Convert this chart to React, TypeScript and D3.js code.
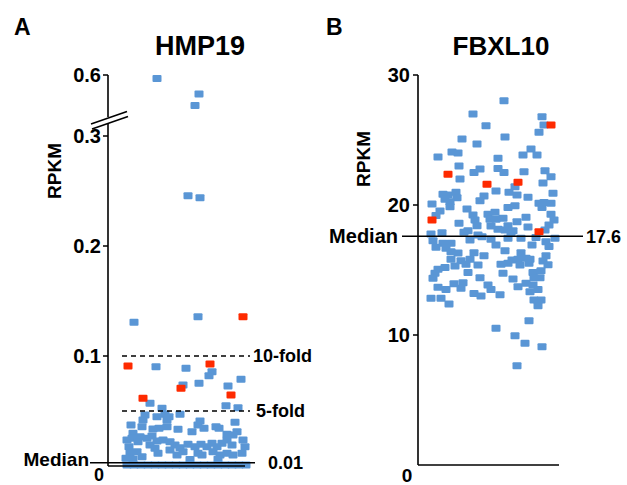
import React from 'react';
import * as d3 from 'd3';

// panel A (HMP19): [jitter, RPKM]
const hmpHigh = [[49, 0.591], [91, 0.55], [87, 0.52]];
const hmpBlue = [
  [80, 0.2457], [92, 0.2439], [26, 0.1306], [90, 0.1357], [48, 0.0903], [78, 0.0888],
  [104, 0.0857], [101, 0.0821], [91, 0.0752], [75, 0.0736], [120, 0.0727], [133, 0.0788],
  [42, 0.057], [54, 0.0525], [118, 0.0548], [130, 0.053], [72, 0.047], [37, 0.0464],
  [35, 0.0418], [49, 0.0448], [57, 0.047], [61, 0.0448], [59, 0.0418], [23, 0.0373],
  [34, 0.0357], [25, 0.0297], [32, 0.0267], [45, 0.0336], [51, 0.0343], [59, 0.0357],
  [70, 0.0334], [84, 0.0312], [90, 0.0373], [96, 0.0343], [108, 0.0357], [111, 0.0343],
  [92, 0.0409], [127, 0.0397], [129, 0.0312], [119, 0.0288], [125, 0.0282], [19, 0.0236],
  [24, 0.0252], [30, 0.0221], [39, 0.0252], [44, 0.0273], [49, 0.0227], [55, 0.0236],
  [62, 0.0221], [42, 0.0191], [47, 0.0161], [67, 0.0191], [72, 0.0166], [80, 0.0197],
  [87, 0.0175], [93, 0.0197], [99, 0.0175], [104, 0.0206], [109, 0.0175], [114, 0.0206],
  [119, 0.0236], [124, 0.0191], [135, 0.0236], [137, 0.0175], [134, 0.0115], [21, 0.0175],
  [22, 0.0115], [29, 0.013], [34, 0.0085], [50, 0.0115], [62, 0.0145], [69, 0.01],
  [75, 0.013], [90, 0.0115], [94, 0.01], [105, 0.013], [112, 0.01], [119, 0.0115],
  [125, 0.01], [18, 0.007], [25, 0.0064], [82, 0.006], [110, 0.0062],
  [19, 0.001], [26, 0.001], [33, 0.001], [40, 0.001], [47, 0.001], [54, 0.001],
  [61, 0.001], [68, 0.001], [75, 0.001], [82, 0.001], [89, 0.001], [96, 0.001],
  [103, 0.001], [110, 0.001], [117, 0.001], [124, 0.001], [131, 0.001], [138, 0.001],
];
const hmpRed = [[135, 0.1357], [20, 0.0909], [102, 0.0927], [73, 0.0706], [123, 0.0645], [35, 0.0615]];
const hmpTicksLow = [0.1, 0.2, 0.3];
const hmpTicksHigh = [0.6];
const hmpFolds = [[0.1, '10-fold'], [0.05, '5-fold']];
const hmpMedianLabel = '0.01';
const hmpMedianLevel = 0.003; // drawn just above the baseline, as in the source

// panel B (FBXL10): [jitter, RPKM]
const fbxBlue = [
  [86, 28.02], [55, 27.0], [124, 26.79], [68, 26.1], [126, 26.15], [121, 25.6], [44, 25.08],
  [87, 25.23], [59, 24.7], [20, 23.7], [34, 24.08], [40, 24.0], [80, 23.6], [105, 23.85],
  [113, 24.3], [119, 23.85], [41, 23.0], [42, 22.0], [56, 22.5], [62, 22.77], [80, 22.8],
  [86, 22.5], [106, 22.56], [127, 22.64], [133, 22.18], [125, 21.7], [97, 21.4], [78, 21.08],
  [91, 20.98], [99, 20.77], [66, 20.7], [62, 20.33], [25, 20.82], [30, 20.77], [38, 20.98],
  [39, 20.56], [32, 20.25], [27, 20.44], [14, 20.08], [22, 19.54], [32, 19.87], [135, 20.9],
  [121, 20.13], [126, 20.2], [133, 20.13], [124, 19.8], [97, 19.95], [90, 19.8], [49, 19.7],
  [55, 19.23], [70, 19.28], [77, 19.44], [72, 18.9], [78, 18.9], [57, 18.85], [59, 18.4],
  [41, 18.6], [99, 18.72], [108, 19.05], [90, 18.4], [73, 18.38], [80, 18.13], [87, 18.08],
  [95, 18.02], [133, 19.28], [136, 18.85], [131, 18.46], [127, 18.08], [50, 18.02], [24, 17.87],
  [13, 17.77], [85, 18.98], [64, 17.56], [52, 17.3], [15, 17.25], [25, 17.05], [33, 17.05],
  [18, 16.75], [28, 16.67], [33, 16.4], [73, 17.36], [78, 16.92], [87, 16.48], [90, 17.44],
  [103, 17.44], [114, 16.92], [128, 17.18], [137, 17.44], [131, 16.8], [56, 16.33], [103, 16.33],
  [128, 16.1], [125, 15.7], [33, 15.82], [43, 15.72], [52, 15.82], [94, 15.77], [100, 15.82],
  [108, 15.9], [83, 15.44], [90, 15.52], [102, 15.38], [112, 15.82], [111, 15.52], [37, 15.3],
  [48, 15.44], [60, 15.38], [20, 15.05], [27, 15.2], [17, 14.75], [15, 14.36], [50, 14.8],
  [85, 14.75], [115, 14.8], [123, 14.95], [122, 14.4], [116, 14.4], [45, 14.02], [43, 13.6],
  [20, 13.67], [28, 13.5], [56, 13.2], [63, 13.0], [70, 13.85], [73, 13.5], [100, 13.72],
  [108, 13.98], [115, 13.85], [112, 13.33], [120, 13.5], [13, 12.82], [23, 12.82], [31, 12.38],
  [116, 12.7], [123, 12.7], [120, 12.25], [111, 11.1], [78, 10.52], [97, 9.95], [107, 9.36],
  [124, 9.1], [99, 7.64],
  [46, 17.9], [60, 17.7], [93, 17.85], [110, 18.3], [118, 17.5], [66, 16.1], [40, 16.3],
  [95, 14.3], [62, 14.4], [36, 13.95], [82, 13.1], [130, 15.4], [18, 19.2], [110, 20.6],
];
const fbxRed = [[133, 26.15], [30, 22.36], [69, 21.6], [100, 21.75], [14, 18.85], [121, 17.95]];
const fbxTicks = [10, 20, 30];
const fbxMedian = 17.6;

const BLUE = '#5a96d5';
const RED = '#fe2a00';
const FONT = '"Liberation Sans", Arial, Helvetica, sans-serif';

function Sq({ x, y, fill }) {
  return <rect x={x - 4.5} y={y - 3.5} width={9} height={7} rx={1} fill={fill} />;
}

export default function App() {
  // panel A scales (broken axis)
  const xA = d3.scaleLinear().domain([0, 150]).range([108, 258]);
  const yLow = d3.scaleLinear().domain([0, 0.3]).range([466, 136]);
  const yHigh = d3.scaleLinear().domain([0.5, 0.6]).range([113, 75]);

  // panel B scales
  const xB = d3.scaleLinear().domain([0, 140]).range([418, 558]);
  const yB = d3.scaleLinear().domain([0, 30]).range([465, 75]);

  const bold = { fontFamily: FONT, fontWeight: 700 };

  return (
    <svg width={627} height={485} style={{ position: 'absolute', left: 0, top: 0, background: '#fff' }}>
      {/* ---------- panel A ---------- */}
      <text x={14} y={35} fontSize={23} {...bold}>A</text>
      <text x={200} y={55} fontSize={27} textAnchor="middle" {...bold}>HMP19</text>
      <text transform="translate(61,171) rotate(-90)" fontSize={19} textAnchor="middle" {...bold}>RPKM</text>

      {hmpBlue.map((d, i) => <Sq key={'ab' + i} x={xA(d[0])} y={yLow(d[1])} fill={BLUE} />)}
      {hmpHigh.map((d, i) => <Sq key={'ah' + i} x={xA(d[0])} y={yHigh(d[1])} fill={BLUE} />)}
      {hmpRed.map((d, i) => <Sq key={'ar' + i} x={xA(d[0])} y={yLow(d[1])} fill={RED} />)}

      <g stroke="#000" strokeWidth={1.6} fill="none">
        <line x1={108} x2={108} y1={yHigh(0.6)} y2={117} />
        <line x1={108} x2={108} y1={123} y2={yLow(0)} />
        <line x1={91} y1={124} x2={127} y2={111.5} />
        <line x1={92} y1={129} x2={128} y2={116.5} />
        <line x1={108} x2={245} y1={yLow(0)} y2={yLow(0)} />
        <line x1={90} x2={255} y1={yLow(hmpMedianLevel)} y2={yLow(hmpMedianLevel)} />
      </g>
      {hmpTicksLow.map((t) => (
        <g key={'tl' + t}>
          <line x1={103} x2={108} y1={yLow(t)} y2={yLow(t)} stroke="#000" strokeWidth={1.5} />
          <text x={101} y={yLow(t)} dy="0.36em" fontSize={20} textAnchor="end" {...bold}>{d3.format('.1f')(t)}</text>
        </g>
      ))}
      {hmpTicksHigh.map((t) => (
        <g key={'th' + t}>
          <line x1={103} x2={108} y1={yHigh(t)} y2={yHigh(t)} stroke="#000" strokeWidth={1.5} />
          <text x={101} y={yHigh(t)} dy="0.36em" fontSize={20} textAnchor="end" {...bold}>{d3.format('.1f')(t)}</text>
        </g>
      ))}
      <text x={99} y={481} fontSize={18} textAnchor="middle" {...bold}>0</text>
      {hmpFolds.map(([v, lab]) => (
        <g key={lab}>
          <line x1={122} x2={250} y1={yLow(v)} y2={yLow(v)} stroke="#000" strokeWidth={1.5} strokeDasharray="5,4" />
          <text x={lab === '10-fold' ? 253 : 256} y={yLow(v)} dy="0.36em" fontSize={18} {...bold}>{lab}</text>
        </g>
      ))}
      <text x={89} y={466} fontSize={19} textAnchor="end" {...bold}>Median</text>
      <text x={268} y={469} fontSize={18} {...bold}>{hmpMedianLabel}</text>

      {/* ---------- panel B ---------- */}
      <text x={326} y={35} fontSize={23} {...bold}>B</text>
      <text x={501} y={55} fontSize={26} textAnchor="middle" {...bold}>FBXL10</text>
      <text transform="translate(370,159) rotate(-90)" fontSize={19} textAnchor="middle" {...bold}>RPKM</text>

      {fbxBlue.map((d, i) => <Sq key={'bb' + i} x={xB(d[0])} y={yB(d[1])} fill={BLUE} />)}
      {fbxRed.map((d, i) => <Sq key={'br' + i} x={xB(d[0])} y={yB(d[1])} fill={RED} />)}

      <g stroke="#000" strokeWidth={1.6}>
        <line x1={418} x2={418} y1={yB(30)} y2={yB(0)} />
        <line x1={418} x2={559} y1={yB(0)} y2={yB(0)} />
        <line x1={402} x2={583} y1={yB(fbxMedian)} y2={yB(fbxMedian)} />
      </g>
      {fbxTicks.map((t) => (
        <g key={'bt' + t}>
          <line x1={413} x2={418} y1={yB(t)} y2={yB(t)} stroke="#000" strokeWidth={1.5} />
          <text x={410} y={yB(t)} dy="0.36em" fontSize={20} textAnchor="end" {...bold}>{t}</text>
        </g>
      ))}
      <text x={407} y={482} fontSize={19} textAnchor="middle" {...bold}>0</text>
      <text x={398} y={243} fontSize={20} textAnchor="end" {...bold}>Median</text>
      <text x={586} y={243} fontSize={18} {...bold}>{fbxMedian}</text>
    </svg>
  );
}
